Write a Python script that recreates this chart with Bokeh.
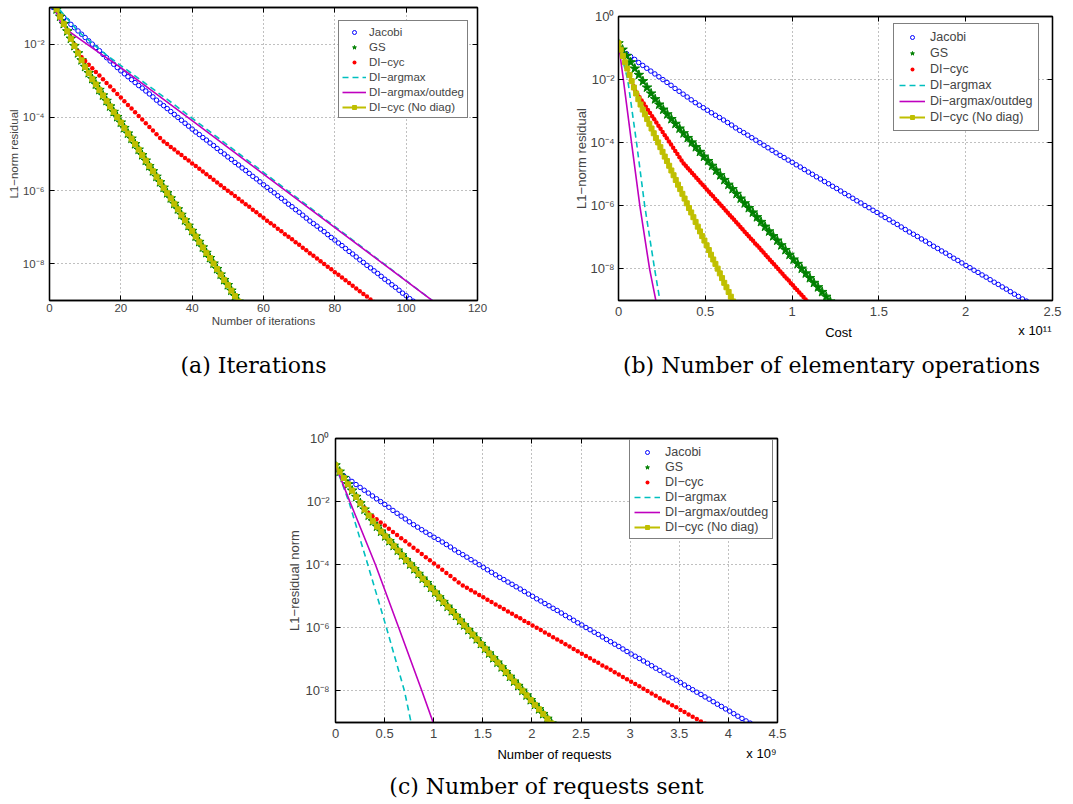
from bokeh.plotting import figure
from bokeh.models import (Range1d, FixedTicker, CustomJSTickFormatter, LinearAxis, LogAxis,
                          Legend, LegendItem, Spacer)
from bokeh.core.properties import value
from bokeh.layouts import column, row
from bokeh.embed import file_html
from bokeh.resources import INLINE

FONT = "Liberation Sans"
CAPFONT = "DejaVu Serif"

# ---------------- data (log10 of the L1 residual, one value per iteration) ----------------
JACOBI_LOG = [
    -1.00, -1.09, -1.18, -1.27, -1.36, -1.46, -1.55, -1.64, -1.73, -1.82,
    -1.91, -2.00, -2.09, -2.18, -2.28, -2.37, -2.46, -2.55, -2.64, -2.73,
    -2.81, -2.89, -2.97, -3.05, -3.13, -3.20, -3.28, -3.36, -3.44, -3.53,
    -3.61, -3.68, -3.76, -3.84, -3.92, -4.00, -4.08, -4.16, -4.24, -4.32,
    -4.40, -4.47, -4.55, -4.62, -4.70, -4.77, -4.85, -4.93, -5.00, -5.08,
    -5.15, -5.23, -5.30, -5.38, -5.45, -5.53, -5.61, -5.68, -5.76, -5.84,
    -5.91, -5.99, -6.06, -6.14, -6.21, -6.29, -6.37, -6.44, -6.52, -6.59,
    -6.67, -6.75, -6.83, -6.90, -6.97, -7.05, -7.12, -7.20, -7.28, -7.35,
    -7.43, -7.50, -7.58, -7.66, -7.73, -7.81, -7.89, -7.96, -8.04, -8.11,
    -8.19, -8.26, -8.34, -8.42, -8.49, -8.57, -8.64, -8.72, -8.80, -8.87,
    -8.95, -9.02]

GS_LOG = [
    -0.85, -1.05, -1.25, -1.45, -1.65, -1.85, -2.05, -2.25, -2.44, -2.62,
    -2.79, -2.95, -3.10, -3.25, -3.40, -3.55, -3.70, -3.85, -3.99, -4.14,
    -4.29, -4.44, -4.58, -4.73, -4.88, -5.03, -5.18, -5.33, -5.47, -5.62,
    -5.77, -5.92, -6.07, -6.21, -6.36, -6.51, -6.66, -6.81, -6.96, -7.10,
    -7.25, -7.40, -7.55, -7.70, -7.84, -7.99, -8.14, -8.29, -8.44, -8.58,
    -8.73, -8.88, -9.03]

DICYC_LOG = [
    -0.85, -1.05, -1.25, -1.45, -1.64, -1.83, -2.02, -2.20, -2.36, -2.46,
    -2.56, -2.66, -2.76, -2.86, -2.96, -3.06, -3.16, -3.26, -3.36, -3.46,
    -3.56, -3.66, -3.76, -3.86, -3.96, -4.06, -4.16, -4.26, -4.36, -4.46,
    -4.56, -4.66, -4.73, -4.81, -4.88, -4.96, -5.03, -5.11, -5.18, -5.26,
    -5.33, -5.40, -5.48, -5.55, -5.63, -5.70, -5.78, -5.85, -5.93, -6.00,
    -6.07, -6.15, -6.22, -6.30, -6.37, -6.44, -6.52, -6.59, -6.67, -6.74,
    -6.82, -6.89, -6.96, -7.04, -7.11, -7.19, -7.26, -7.33, -7.41, -7.48,
    -7.56, -7.63, -7.71, -7.78, -7.85, -7.93, -8.00, -8.08, -8.15, -8.23,
    -8.30, -8.37, -8.45, -8.52, -8.60, -8.67, -8.75, -8.82, -8.89, -8.97,
    -9.04]

# DI-cyc (No diag) is indistinguishable from GS in panels (a) and (c)
NODIAG_LOG = GS_LOG[:]

# line-only series: vertices
ARGMAX_ITER = [1, 8, 16, 34, 60, 108]
ARGMAX_ITER_LOG = [-0.85, -1.65, -2.30, -3.58, -5.50, -9.05]
ARGMAX_COST = [0, 0.053e11, 0.104e11, 0.151e11, 0.208e11, 0.24e11]
ARGMAX_COST_LOG = [-0.85, -2.0, -4.0, -6.0, -8.0, -9.05]
ARGMAX_REQ = [0, 0.136e9, 0.329e9, 0.519e9, 0.702e9, 0.773e9]
ARGMAX_REQ_LOG = [-0.85, -2.0, -4.0, -6.0, -8.0, -9.05]

OUTDEG_ITER = [1, 2, 3, 5, 9, 14, 20, 40, 60, 108]
OUTDEG_ITER_LOG = [-0.85, -1.15, -1.38, -1.62, -1.90, -2.24, -2.64, -4.09, -5.55, -9.05]
OUTDEG_COST = [0, 0.028e11, 0.075e11, 0.123e11, 0.179e11, 0.217e11]
OUTDEG_COST_LOG = [-0.85, -2.0, -4.0, -6.0, -8.0, -9.05]
OUTDEG_REQ = [0, 0.146e9, 0.407e9, 0.644e9, 0.88e9, 1.0e9]
OUTDEG_REQ_LOG = [-0.85, -2.0, -4.0, -6.0, -8.0, -9.05]

# cost (elementary operations) and requests per iteration (b) and (c)
COST_PER_ITER = {"jacobi": 2.327e9, "gs": 2.346e9, "dicyc": 1.211e9, "nodiag": 1.269e9}
REQ_PER_ITER = {"jacobi": 4.18e7, "gs": 4.23e7, "dicyc": 4.18e7, "nodiag": 4.23e7}

LABELS_A = ["Jacobi", "GS", "DI\u2212cyc", "DI\u2212argmax", "DI\u2212argmax/outdeg", "DI\u2212cyc (No diag)"]
LABELS_B = ["Jacobi", "GS", "DI\u2212cyc", "DI\u2212argmax", "Di\u2212argmax/outdeg", "DI\u2212cyc (No diag)"]

C_BLUE = "#0000FF"
C_GREEN = "#008000"
C_RED = "#FF0000"
C_CYAN = "#00BFBF"
C_MAG = "#BF00BF"
C_YEL = "#BFBF00"

SUP_JS = """
const e = Math.round(Math.log10(tick));
const m = {"-":"\\u207b","0":"\\u2070","1":"\\u00b9","2":"\\u00b2","3":"\\u00b3","4":"\\u2074",
           "5":"\\u2075","6":"\\u2076","7":"\\u2077","8":"\\u2078","9":"\\u2079"};
return "10" + String(e).split("").map(c => m[c]).join("");
"""


def res(logs):
    return [10 ** v for v in logs]


def make_panel(width, height, mb, x_end, x_ticks, x_code, y_lo, y_hi, y_ticks,
               fs_tick, fs_lab, xlab, ylab, x_std, y_std, xl_std, yl_std):
    p = figure(width=width, height=height, x_range=Range1d(0, x_end), y_range=Range1d(y_lo, y_hi),
               y_axis_type="log", output_backend="svg", toolbar_location=None,
               min_border_left=mb[0], min_border_right=mb[1], min_border_top=mb[2], min_border_bottom=mb[3],
               background_fill_color="white", border_fill_color="white")
    p.outline_line_color = "black"
    p.outline_line_width = 1.3
    xt = FixedTicker(ticks=x_ticks, minor_ticks=[])
    yt = FixedTicker(ticks=y_ticks, minor_ticks=[])
    xa = p.below[0]
    ya = p.left[0]
    xa.ticker = xt
    ya.ticker = yt
    xa.formatter = CustomJSTickFormatter(code=x_code)
    ya.formatter = CustomJSTickFormatter(code=SUP_JS)
    top = LinearAxis(ticker=xt, formatter=CustomJSTickFormatter(code="return '';"))
    right = LogAxis(ticker=yt, formatter=CustomJSTickFormatter(code="return '';"))
    p.add_layout(top, "above")
    p.add_layout(right, "right")
    for ax in (xa, ya, top, right):
        ax.axis_line_color = "black"
        ax.axis_line_width = 1.3
        ax.major_tick_in = 5
        ax.major_tick_out = 0
        ax.major_tick_line_color = "black"
        ax.minor_tick_line_color = None
        ax.major_label_text_font = FONT
        ax.major_label_text_font_size = fs_tick
        ax.axis_label_text_font = FONT
        ax.axis_label_text_font_style = "normal"
        ax.axis_label_text_font_size = fs_lab
    for ax in (top, right):
        ax.major_label_text_font_size = "0px"
        ax.major_label_standoff = 0
    xa.major_label_standoff = x_std
    ya.major_label_standoff = y_std
    if xlab:
        xa.axis_label = xlab
        xa.axis_label_standoff = xl_std
    ya.axis_label = ylab
    ya.axis_label_standoff = yl_std
    p.xgrid.ticker = xt
    p.ygrid.ticker = yt
    for g in (p.xgrid, p.ygrid):
        g.grid_line_color = "#808080"
        g.grid_line_dash = "1 3"
        g.grid_line_width = 1
    return p


def draw(p, xs):
    (xj, xg, xr, xc_x, xc_y, xm_x, xm_y, xn) = xs
    rj = p.scatter(xj, res(JACOBI_LOG), marker="circle", size=4.5, fill_color=None,
                   line_color=C_BLUE, line_width=1)
    rg = p.scatter(xg, res(GS_LOG), marker="star", size=10, fill_color=C_GREEN,
                   line_color=C_GREEN, line_width=1)
    rr = p.scatter(xr, res(DICYC_LOG), marker="circle", size=4.5, fill_color=C_RED,
                   line_color=None)
    rc = p.line(xc_x, res(xc_y), line_color=C_CYAN, line_width=1.6, line_dash="6 4")
    rm = p.line(xm_x, res(xm_y), line_color=C_MAG, line_width=1.6)
    rn1 = p.line(xn, res(NODIAG_LOG), line_color=C_YEL, line_width=2)
    rn2 = p.scatter(xn, res(NODIAG_LOG), marker="square", size=5, fill_color=C_YEL,
                    line_color=C_YEL)
    return [[rj], [rg], [rr], [rc], [rm], [rn1, rn2]]


def add_legend(p, rends, labels, loc, fs, row_h, glyph_w, pad, stand):
    items = [LegendItem(label=l, renderers=r) for l, r in zip(labels, rends)]
    leg = Legend(items=items, location=loc, orientation="vertical",
                 border_line_color="black", border_line_width=1.2,
                 background_fill_color="white", background_fill_alpha=1.0,
                 label_text_font=FONT, label_text_font_size=fs,
                 glyph_width=glyph_w, glyph_height=10, label_height=row_h,
                 label_standoff=stand, spacing=0, padding=pad, margin=0)
    p.add_layout(leg)


def strip(w, h, left, right):
    # text strip whose frame lines up with the panel above it (x in px from that frame's left edge)
    return figure(width=w, height=h, x_range=Range1d(0, w - left - right), y_range=Range1d(h, 0),
                  x_axis_type=None, y_axis_type=None, output_backend="svg", toolbar_location=None,
                  min_border_left=left, min_border_right=right, min_border_top=0, min_border_bottom=0,
                  outline_line_color=None, background_fill_color="white", border_fill_color="white")


def stext(s, x, y, text, font, size, align):
    s.text(x=[x], y=[y], text=[text], text_font=value(font), text_font_size=value(size),
           text_align=align, text_baseline="middle", text_color="black")


Y_TICKS = [1e0, 1e-2, 1e-4, 1e-6, 1e-8]

# ---------------- (a) iterations ----------------
pa = make_panel(552, 332, (49, 75, 7, 32), 120, [0, 20, 40, 60, 80, 100, 120],
                "return String(tick);", 1e-9, 1e-1, Y_TICKS, "11.5px", "11.5px",
                "Number of iterations", "L1\u2212norm residual", 3, 5, 0, 0)
it = lambda n: list(range(1, n + 1))
ra = draw(pa, (it(len(JACOBI_LOG)), it(len(GS_LOG)), it(len(DICYC_LOG)),
               ARGMAX_ITER, ARGMAX_ITER_LOG, OUTDEG_ITER, OUTDEG_ITER_LOG, it(len(NODIAG_LOG))))
add_legend(pa, ra, LABELS_A, (289, 182), "11.5px", 15, 24, 3, 3)
sa = strip(552, 53, 49, 75)
stext(sa, 204, 33, "(a) Iterations", CAPFONT, "22px", "center")

# ---------------- (b) cost ----------------
pb = make_panel(513, 321, (66, 13, 16, 21), 2.5e11, [0, 0.5e11, 1e11, 1.5e11, 2e11, 2.5e11],
                "return String(Math.round(tick / 1e11 * 10) / 10);", 1e-9, 1e0, Y_TICKS,
                "13px", "13px", None, "L1\u2212norm residual", 6, 4, 0, -2)
cx = lambda key, n: [k * COST_PER_ITER[key] for k in range(n)]
rb = draw(pb, (cx("jacobi", len(JACOBI_LOG)), cx("gs", len(GS_LOG)), cx("dicyc", len(DICYC_LOG)),
               ARGMAX_COST, ARGMAX_COST_LOG, OUTDEG_COST, OUTDEG_COST_LOG, cx("nodiag", len(NODIAG_LOG))))
add_legend(pb, rb, LABELS_B, (275, 169), "12.5px", 16, 26, 5, 5)
sb = strip(513, 64, 66, 13)
stext(sb, 220, 11, "Cost", FONT, "13px", "center")
stext(sb, 433, 9, "x 10\u00b9\u00b9", FONT, "13px", "right")
stext(sb, 213, 44, "(b) Number of elementary operations", CAPFONT, "22px", "center")

# ---------------- (c) requests ----------------
pc = make_panel(520, 358, (55, 23, 53, 21), 4.5e9,
                [0, 0.5e9, 1e9, 1.5e9, 2e9, 2.5e9, 3e9, 3.5e9, 4e9, 4.5e9],
                "return String(Math.round(tick / 1e9 * 10) / 10);", 1e-9, 1e0, Y_TICKS,
                "13px", "13px", None, "L1\u2212residual norm", 6, 6, 0, 0)
rx = lambda key, n: [k * REQ_PER_ITER[key] for k in range(n)]
rc_ = draw(pc, (rx("jacobi", len(JACOBI_LOG)), rx("gs", len(GS_LOG)), rx("dicyc", len(DICYC_LOG)),
                ARGMAX_REQ, ARGMAX_REQ_LOG, OUTDEG_REQ, OUTDEG_REQ_LOG, rx("nodiag", len(NODIAG_LOG))))
add_legend(pc, rc_, LABELS_A, (294, 183), "12.5px", 15, 26, 4, 5)
sc = strip(520, 58, 55, 23)
stext(sc, 219, 11, "Number of requests", FONT, "13px", "center")
stext(sc, 441, 10, "x 10\u2079", FONT, "13px", "right")
stext(sc, 211, 43, "(c) Number of requests sent", CAPFONT, "22px", "center")

layout = column(row(column(pa, sa), column(pb, sb)),
                row(Spacer(width=280, height=416), column(pc, sc)))

open("out.html", "w", encoding="utf-8").write(file_html(layout, INLINE, "residuals"))
